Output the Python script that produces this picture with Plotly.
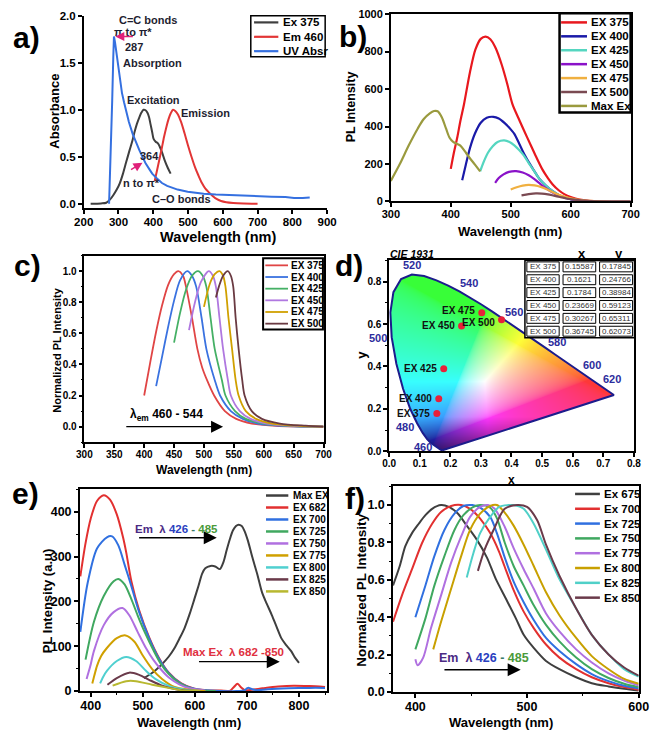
import base64, struct, zlib
import numpy as np
import plotly.graph_objects as go

W, H = 661, 738
FONT = "Liberation Sans, Arial, sans-serif"

# ----------------------------- DATA -----------------------------
# panel a
A_EX_X = [220, 250, 265, 276, 285, 295, 304, 313, 322, 332, 340, 346, 353, 360, 366, 372, 378, 383, 388, 392, 397, 401, 407, 414, 423, 434, 442, 450]
A_EX_Y = [0, 0.003, 0.01, 0.045, 0.09, 0.15, 0.22, 0.32, 0.44, 0.57, 0.67, 0.76, 0.85, 0.92, 0.97, 1.0, 0.995, 0.97, 0.92, 0.85, 0.76, 0.69, 0.66, 0.64, 0.57, 0.45, 0.38, 0.32]
A_EM_X = [404, 410, 417, 424, 431, 438, 444, 450, 457, 464, 471, 480, 490, 500, 510, 520, 530, 540, 550, 560, 570, 582, 595, 610, 630, 660, 700]
A_EM_Y = [0.24, 0.34, 0.46, 0.58, 0.71, 0.82, 0.9, 0.96, 1.0, 0.985, 0.95, 0.87, 0.75, 0.62, 0.5, 0.39, 0.3, 0.22, 0.16, 0.12, 0.085, 0.05, 0.028, 0.015, 0.007, 0.002, 0.0]
A_UV_X = [273, 278, 282, 285, 287, 290, 295, 300, 305, 310, 316, 322, 330, 341, 350, 360, 370, 378, 390, 397, 410, 425, 440, 453, 470, 499, 520, 545, 580, 620, 660, 700, 740, 780, 805, 830, 850]
A_UV_Y = [0.0, 0.5, 1.1, 1.55, 1.78, 1.72, 1.58, 1.45, 1.3, 1.18, 1.08, 0.99, 0.87, 0.74, 0.65, 0.57, 0.49, 0.43, 0.36, 0.32, 0.27, 0.22, 0.19, 0.17, 0.15, 0.126, 0.115, 0.105, 0.097, 0.09, 0.085, 0.08, 0.075, 0.07, 0.06, 0.06, 0.066]

# panel b
B_375_X = [400, 405, 411, 416, 422, 432, 441, 450, 458, 466, 475, 485, 494, 503, 515, 527, 540, 553, 562, 570, 580, 590, 600, 615, 630, 650, 700]
B_375_Y = [174, 258, 344, 430, 518, 690, 810, 868, 880, 866, 818, 730, 630, 518, 430, 345, 255, 170, 125, 91, 60, 38, 24, 10, 4, 1, 0]
B_400_X = [419, 425, 432, 440, 450, 460, 471, 480, 490, 500, 506, 514, 522, 530, 538, 548, 559, 570, 580, 590, 600, 620, 650, 700]
B_400_Y = [114, 195, 285, 360, 420, 447, 452, 443, 418, 385, 361, 310, 256, 210, 169, 120, 84, 55, 35, 22, 13, 4, 1, 0]
B_425_X = [449, 455, 462, 470, 478, 489, 498, 506, 514, 522, 530, 538, 548, 559, 570, 580, 590, 600, 620, 650, 700]
B_425_Y = [161, 212, 260, 295, 318, 326, 318, 300, 275, 245, 205, 168, 120, 84, 55, 35, 22, 13, 4, 1, 0]
B_450_X = [474, 480, 488, 497, 509, 520, 530, 540, 550, 560, 570, 580, 590, 600, 620, 650, 700]
B_450_Y = [100, 125, 145, 158, 162, 155, 140, 118, 92, 68, 48, 32, 21, 13, 5, 1, 0]
B_475_X = [500, 510, 520, 530, 540, 550, 560, 570, 580, 590, 600, 620, 650, 700]
B_475_Y = [64, 76, 85, 89, 86, 78, 65, 50, 36, 25, 17, 6, 1, 0]
B_500_X = [518, 530, 542, 552, 562, 572, 582, 592, 602, 620, 650, 700]
B_500_Y = [33, 39, 43, 42, 38, 31, 24, 17, 11, 5, 1, 0]
B_MAX_X = [300, 315, 330, 345, 355, 365, 372, 378, 385, 392, 398, 404, 410, 416, 423, 430, 440, 449]
B_MAX_Y = [110, 200, 300, 390, 440, 470, 483, 482, 450, 390, 340, 318, 308, 298, 270, 239, 198, 161]

# panel c (normalized)
C_375_X = [400, 410, 420, 430, 440, 450, 457, 465, 470, 480, 489, 497, 505, 517, 535, 554, 580, 620, 700]
C_375_Y = [0.2, 0.41, 0.61, 0.78, 0.91, 0.98, 1.0, 0.97, 0.9, 0.7, 0.5, 0.38, 0.3, 0.2, 0.1, 0.05, 0.02, 0.005, 0.0]
C_400_X = [420, 430, 440, 450, 460, 472, 480, 487, 496, 504, 518, 527, 545, 565, 590, 640, 700]
C_400_Y = [0.26, 0.45, 0.64, 0.81, 0.94, 1.0, 0.97, 0.9, 0.7, 0.5, 0.3, 0.2, 0.1, 0.05, 0.02, 0.004, 0]
C_425_X = [450, 460, 470, 480, 490, 498, 504, 511, 518, 530, 536, 552, 570, 600, 650, 700]
C_425_Y = [0.54, 0.73, 0.88, 0.97, 1.0, 0.97, 0.9, 0.7, 0.5, 0.3, 0.2, 0.1, 0.05, 0.02, 0.004, 0]
C_450_X = [475, 485, 495, 508, 515, 520, 526, 532, 540, 545, 560, 578, 605, 650, 700]
C_450_Y = [0.62, 0.8, 0.93, 1.0, 0.97, 0.9, 0.7, 0.5, 0.3, 0.2, 0.1, 0.05, 0.02, 0.005, 0]
C_475_X = [500, 510, 518, 526, 532, 536, 541, 547, 553, 558, 570, 587, 614, 660, 700]
C_475_Y = [0.77, 0.92, 0.98, 1.0, 0.97, 0.9, 0.7, 0.5, 0.3, 0.2, 0.1, 0.05, 0.02, 0.005, 0]
C_500_X = [520, 525, 532, 540, 545, 549, 553, 558, 564, 568, 580, 597, 627, 670, 700]
C_500_Y = [0.83, 0.9, 0.97, 1.0, 0.97, 0.9, 0.7, 0.5, 0.3, 0.2, 0.1, 0.05, 0.02, 0.006, 0]

# panel d : CIE 1931 spectral locus + measured chromaticities
CIE_WL = [380, 400, 420, 440, 450, 460, 465, 470, 475, 480, 485, 490, 495, 500, 505, 510, 515, 520, 525, 530, 535, 540, 545, 550, 555, 560, 565, 570, 575, 580, 585, 590, 595, 600, 605, 610, 620, 630, 640, 650, 680, 700]
CIE_X = [0.1741, 0.1733, 0.1714, 0.1644, 0.1566, 0.1440, 0.1355, 0.1241, 0.1096, 0.0913, 0.0687, 0.0454, 0.0235, 0.0082, 0.0039, 0.0139, 0.0389, 0.0743, 0.1142, 0.1547, 0.1929, 0.2296, 0.2658, 0.3016, 0.3373, 0.3731, 0.4087, 0.4441, 0.4788, 0.5125, 0.5448, 0.5752, 0.6029, 0.6270, 0.6482, 0.6658, 0.6915, 0.7079, 0.7190, 0.7260, 0.7334, 0.7347]
CIE_Y = [0.0050, 0.0048, 0.0051, 0.0109, 0.0177, 0.0297, 0.0399, 0.0578, 0.0868, 0.1327, 0.2007, 0.2950, 0.4127, 0.5384, 0.6548, 0.7502, 0.8120, 0.8338, 0.8262, 0.8059, 0.7816, 0.7543, 0.7243, 0.6923, 0.6589, 0.6245, 0.5896, 0.5547, 0.5202, 0.4866, 0.4544, 0.4242, 0.3965, 0.3725, 0.3514, 0.3340, 0.3083, 0.2920, 0.2809, 0.2740, 0.2666, 0.2653]
LOCUS_TAGS = [460, 480, 500, 520, 540, 560, 580, 600, 620]
D_LABELS = ["EX 375", "EX 400", "EX 425", "EX 450", "EX 475", "EX 500"]
D_X = [0.15587, 0.1621, 0.1784, 0.23669, 0.30267, 0.36745]
D_Y = [0.17845, 0.24766, 0.38984, 0.59123, 0.65311, 0.62073]
D_HEAD = ["x", "y"]

# panel e
E_MAX_X = [502, 515, 525, 537, 550, 561, 570, 580, 590, 599, 607, 614, 620, 630, 639, 648, 655, 661, 667, 673, 679, 684, 690, 695, 702, 710, 720, 729, 738, 748, 757, 766, 775, 785, 792, 800]
E_MAX_Y = [29, 38, 47, 60, 77, 96, 116, 140, 172, 205, 235, 262, 274, 279, 278, 272, 288, 314, 338, 358, 368, 371, 368, 358, 335, 300, 260, 220, 195, 169, 143, 118, 103, 89, 75, 63]
E_682_X = [380, 390, 400, 412, 425, 437, 450, 462, 468, 478, 493, 512, 530, 549, 574, 599, 620, 650, 668, 675, 682, 689, 696, 710, 730, 760, 790, 820, 850]
E_682_Y = [256, 330, 385, 424, 437, 427, 394, 343, 310, 245, 180, 120, 76, 42, 17, 5, 2, 1, 1, 9, 16, 8, 2, 3, 6, 10, 12, 11, 9]
E_700_X = [380, 394, 412, 431, 441, 453, 465, 478, 493, 512, 530, 549, 574, 599, 630, 680, 696, 700, 704, 710, 718, 740, 780, 820, 850]
E_700_Y = [132, 241, 318, 343, 345, 325, 282, 234, 176, 118, 74, 41, 16, 5, 1, 0, 2, 6, 7, 4, 2, 4, 6, 7, 7]
E_725_X = [390, 406, 425, 444, 453, 465, 478, 490, 505, 520, 535, 550, 570, 590, 610, 640]
E_725_Y = [70, 154, 212, 245, 250, 238, 205, 169, 128, 92, 60, 38, 18, 7, 2, 0]
E_750_X = [392, 399, 406, 425, 444, 461, 474, 490, 506, 520, 535, 550, 570, 590, 620]
E_750_Y = [27, 55, 89, 147, 176, 185, 169, 132, 96, 70, 48, 30, 15, 6, 1]
E_775_X = [403, 407, 412, 420, 431, 450, 467, 484, 499, 518, 537, 561, 590, 620]
E_775_Y = [17, 35, 56, 78, 96, 118, 124, 110, 81, 49, 27, 9, 3, 0]
E_800_X = [418, 424, 431, 450, 468, 487, 506, 524, 549, 580, 610]
E_800_Y = [17, 32, 45, 67, 76, 67, 45, 27, 12, 3, 0]
E_825_X = [432, 450, 474, 493, 512, 537, 568, 600]
E_825_Y = [14, 29, 41, 36, 25, 12, 3, 0]
E_850_X = [442, 468, 487, 518, 549, 580, 610]
E_850_Y = [12, 22, 22, 14, 7, 1, 0]

# panel f (normalized)
F_675_X = [380, 386, 391, 397, 403, 409, 415, 423, 430, 438, 446, 455, 464, 472, 481, 490, 497, 506, 517, 529, 544, 558, 573, 587, 600]
F_675_Y = [0.57, 0.674, 0.78, 0.85, 0.90, 0.946, 0.98, 1.0, 0.99, 0.955, 0.89, 0.815, 0.72, 0.605, 0.5, 0.394, 0.306, 0.236, 0.166, 0.122, 0.079, 0.047, 0.03, 0.017, 0.008]
F_700_X = [380, 388, 397, 406, 415, 423, 432, 441, 449, 458, 467, 475, 480, 488, 497, 506, 517, 529, 544, 558, 573, 587, 600]
F_700_Y = [0.376, 0.517, 0.657, 0.797, 0.90, 0.963, 0.995, 1.0, 0.98, 0.928, 0.85, 0.75, 0.67, 0.545, 0.43, 0.342, 0.254, 0.184, 0.122, 0.079, 0.047, 0.026, 0.012]
F_725_X = [400, 409, 417, 426, 435, 443, 451, 458, 467, 473, 480, 488, 497, 506, 517, 529, 544, 558, 573, 587, 600]
F_725_Y = [0.40, 0.57, 0.727, 0.867, 0.954, 0.995, 1.0, 0.986, 0.937, 0.85, 0.72, 0.59, 0.48, 0.385, 0.289, 0.219, 0.149, 0.096, 0.058, 0.033, 0.019]
F_750_X = [400, 409, 417, 426, 435, 443, 452, 458, 467, 473, 480, 488, 497, 506, 517, 529, 544, 558, 573, 587, 600]
F_750_Y = [0.228, 0.394, 0.569, 0.727, 0.867, 0.946, 0.99, 1.0, 0.986, 0.93, 0.80, 0.674, 0.569, 0.464, 0.359, 0.271, 0.184, 0.122, 0.075, 0.044, 0.026]
F_775_X = [400, 402, 407, 414, 423, 432, 441, 449, 458, 465, 471, 480, 488, 497, 506, 517, 529, 544, 558, 573, 587, 600]
F_775_Y = [0.175, 0.143, 0.184, 0.342, 0.517, 0.692, 0.832, 0.937, 0.99, 1.0, 0.98, 0.884, 0.77, 0.657, 0.552, 0.42, 0.324, 0.228, 0.158, 0.10, 0.061, 0.035]
F_800_X = [416, 423, 432, 441, 449, 458, 467, 473, 480, 488, 497, 506, 517, 529, 544, 558, 573, 587, 600]
F_800_Y = [0.228, 0.376, 0.552, 0.727, 0.867, 0.954, 0.995, 1.0, 0.96, 0.89, 0.788, 0.674, 0.534, 0.411, 0.289, 0.192, 0.122, 0.07, 0.044]
F_825_X = [446, 452, 458, 467, 475, 483, 488, 497, 506, 517, 529, 544, 558, 573, 587, 600]
F_825_Y = [0.613, 0.744, 0.85, 0.937, 0.99, 1.0, 1.0, 0.98, 0.90, 0.762, 0.604, 0.447, 0.306, 0.201, 0.122, 0.082]
F_850_X = [456, 462, 470, 480, 491, 500, 509, 517, 529, 544, 558, 573, 587, 600]
F_850_Y = [0.648, 0.762, 0.867, 0.98, 1.0, 0.99, 0.92, 0.788, 0.622, 0.447, 0.306, 0.201, 0.131, 0.087]

# ----------------------------- STYLE / LAYOUT -----------------------------
def fx(p):
    return p / W


def fy(p):
    return 1 - p / H


# pixel boxes of plot areas: left, right, top, bottom
BOX = {
    "": (76, 327, 10, 206),
    "2": (392.7, 640, 8.3, 199),
    "3": (76.7, 323.3, 254, 444),
    "4": (391, 643.3, 259, 453.3),
    "5": (72, 327, 492, 697.3),
    "6": (395, 648.3, 489, 698.3),
}

fig = go.Figure()
shapes, annos = [], []


def curve(ax, xs, ys, color, width=2.0, shape="spline"):
    fig.add_trace(go.Scatter(
        x=xs, y=ys, mode="lines", xaxis="x" + ax, yaxis="y" + ax,
        line=dict(color=color, width=width, shape=shape, smoothing=0.8),
        hoverinfo="skip", showlegend=False))


def txt(text, x, y, size, color="black", xref="paper", yref="paper", xanchor="center",
        yanchor="middle", angle=0, italic=False, bold=True, xshift=0, yshift=0):
    annos.append(dict(text=text, x=x, y=y, xref=xref, yref=yref, xanchor=xanchor, yanchor=yanchor,
                      showarrow=False, textangle=angle, xshift=xshift, yshift=yshift,
                      font=dict(family=FONT, size=size, color=color,
                                weight="bold" if bold else "normal",
                                style="italic" if italic else "normal")))


def arrow(ax, x0, y0, x1, y1, color, width=1.5, size=1.6):
    annos.append(dict(x=x1, y=y1, ax=x0, ay=y0, xref="x" + ax, yref="y" + ax,
                      axref="x" + ax, ayref="y" + ax, showarrow=True, arrowhead=2,
                      arrowsize=size, arrowwidth=width, arrowcolor=color, text=" ",
                      font=dict(size=1)))


def rect_px(x0, x1, y0, y1, lw=1.0, fill="white"):
    shapes.append(dict(type="rect", xref="paper", yref="paper", x0=fx(x0), x1=fx(x1),
                       y0=fy(y1), y1=fy(y0), line=dict(color="black", width=lw),
                       fillcolor=fill, layer="above"))


def legend(items, xl0, xl1, xt, y0, dy, fsize, lw, box=None, boxw=1.5):
    if box:
        rect_px(box[0], box[1], box[2], box[3], lw=boxw)
    for i, (name, color) in enumerate(items):
        yy = y0 + i * dy
        shapes.append(dict(type="line", xref="paper", yref="paper", x0=fx(xl0), x1=fx(xl1),
                           y0=fy(yy), y1=fy(yy), line=dict(color=color, width=lw), layer="above"))
        txt(name, fx(xt), fy(yy), fsize, xanchor="left")


def axis_pair(ax, xr, yr, xd, yd, fs, xfmt=None, yfmt=None, mirror=True, xminor=None, yminor=None):
    l, r, t, b = BOX[ax]
    common = dict(ticks="outside", ticklen=4, tickwidth=1.5, tickcolor="black", showline=True,
                  linecolor="black", linewidth=1.5, mirror=mirror, showgrid=False, zeroline=False,
                  fixedrange=True, tickfont=dict(family=FONT, size=fs, color="black", weight="bold"))
    xa = dict(common, domain=[fx(l), fx(r)], range=xr, dtick=xd, anchor="y" + ax, ticklabelstandoff=-2)
    ya = dict(common, domain=[fy(b), fy(t)], range=yr, dtick=yd, anchor="x" + ax)
    if xfmt:
        xa["tickformat"] = xfmt
    if yfmt:
        ya["tickformat"] = yfmt
    if xminor:
        xa["minor"] = dict(dtick=xminor, ticks="outside", ticklen=2, tickcolor="black", tickwidth=1)
    if yminor:
        ya["minor"] = dict(dtick=yminor, ticks="outside", ticklen=2, tickcolor="black", tickwidth=1)
    return {"xaxis" + ax: xa, "yaxis" + ax: ya}


layout_axes = {}
layout_axes.update(axis_pair("", [200, 900], [-0.05, 2.0], 100, 0.5, 11.5, yfmt=".1f", mirror=False))
layout_axes.update(axis_pair("2", [300, 700], [0, 1000], 100, 200, 11))
layout_axes.update(axis_pair("3", [300, 700], [-0.1, 1.1], 50, 0.2, 10, yfmt=".1f", yminor=0.1))
layout_axes.update(axis_pair("4", [0, 0.8], [0, 0.9], 0.1, 0.2, 10, xfmt=".1f", yfmt=".1f", yminor=0.1))
layout_axes.update(axis_pair("5", [379, 854], [0, 450], 100, 100, 12.5, xminor=50, yminor=50))
layout_axes.update(axis_pair("6", [380, 600], [0, 1.1], 100, 0.2, 12.5, yfmt=".1f", xminor=50, yminor=0.1))

# ----------------------------- panel a -----------------------------
COL_A = ["#3f3f3f", "#e23535", "#3570e0"]
curve("", A_EX_X, A_EX_Y, COL_A[0])
curve("", A_EM_X, A_EM_Y, COL_A[1])
curve("", A_UV_X, A_UV_Y, COL_A[2], shape="linear")
TA = "#1e1e30"
for t, x, y in [("C=C bonds", 385, 1.955), ("\u03c0 to \u03c0*", 340.7, 1.825), ("287", 344.8, 1.665),
                ("Absorption", 397.8, 1.497), ("Excitation", 402, 1.10), ("Emission", 549.6, 0.963),
                ("364", 389.4, 0.503), ("n to \u03c0*", 365.7, 0.22), ("C\u2013O bonds", 480, 0.052)]:
    txt(t, x, y, 11, color=TA, xref="x", yref="y")
arrow("", 345.7, 1.78, 291, 1.78, "#e0207a", width=1.5, size=1.2)
arrow("", 331.8, 0.353, 369, 0.437, "#e0207a", width=1.5, size=1.2)
legend([("Ex 375", COL_A[0]), ("Em 460", COL_A[1]), ("UV Absr", COL_A[2])],
       251.7, 276.7, 279.3, 16.7, 14.65, 11.5, 2.2, box=(248.3, 325, 10, 51.7))

# ----------------------------- panel b -----------------------------
COL_B = ["#e8181e", "#1a1aa8", "#55d6c0", "#8a12c8", "#f0b040", "#7a4a52", "#9a9a3e"]
B_SER = [("EX 375", B_375_X, B_375_Y), ("EX 400", B_400_X, B_400_Y), ("EX 425", B_425_X, B_425_Y),
         ("EX 450", B_450_X, B_450_Y), ("EX 475", B_475_X, B_475_Y), ("EX 500", B_500_X, B_500_Y),
         ("Max Ex", B_MAX_X, B_MAX_Y)]
for (n, xs, ys), c in zip(B_SER, COL_B):
    curve("2", xs, ys, c, width=2.2)
legend([(n, c) for (n, _, _), c in zip(B_SER, COL_B)], 568.3, 595, 596.7, 16.7, 14.17, 11.5, 2.5,
       box=(566.7, 640, 7.3, 108.3), boxw=2.5)

# ----------------------------- panel c -----------------------------
COL_C = ["#e04545", "#3a72e0", "#45b065", "#b078e0", "#d0a000", "#6a3a42"]
C_SER = [("EX 375", C_375_X, C_375_Y), ("EX 400", C_400_X, C_400_Y), ("EX 425", C_425_X, C_425_Y),
         ("EX 450", C_450_X, C_450_Y), ("EX 475", C_475_X, C_475_Y), ("EX 500", C_500_X, C_500_Y)]
for (n, xs, ys), c in zip(C_SER, COL_C):
    curve("3", xs, ys, c, width=1.8)
legend([(n, c) for (n, _, _), c in zip(C_SER, COL_C)], 263.3, 286.7, 287.7, 264, 11.87, 10, 1.8,
       box=(261, 322.7, 256.7, 329.3), boxw=2)
arrow("3", 367.6, 0, 532, 0, "black", width=1.2, size=2)
txt("\u03bb<sub>em</sub> 460 - 544", 373, 0.075, 12, xref="x3", yref="y3", xanchor="left")


# ----------------------------- panel d -----------------------------
def cie_png(nx=320, ny=360):
    xs = (np.arange(nx) + 0.5) * (0.8 / nx)
    ys = 0.9 - (np.arange(ny) + 0.5) * (0.9 / ny)
    gx, gy = np.meshgrid(xs, ys)
    px, py = np.array(CIE_X), np.array(CIE_Y)
    inside = np.zeros(gx.shape, bool)
    n = len(px)
    with np.errstate(divide="ignore", invalid="ignore"):
        for i in range(n):
            x1, y1, x2, y2 = px[i], py[i], px[(i + 1) % n], py[(i + 1) % n]
            cond = (y1 > gy) != (y2 > gy)
            xint = x1 + (gy - y1) * (x2 - x1) / (y2 - y1 if y2 != y1 else 1e-12)
            inside ^= cond & (gx < xint)
    yy = np.maximum(gy, 1e-4)
    X, Y, Z = gx / yy, np.ones_like(gx), (1 - gx - gy) / yy
    r = 3.2406 * X - 1.5372 * Y - 0.4986 * Z
    g = -0.9689 * X + 1.8758 * Y + 0.0415 * Z
    b = 0.0557 * X - 0.2040 * Y + 1.0570 * Z
    rgb = np.clip(np.stack([r, g, b], -1), 0, None)
    rgb = rgb / (rgb.max(-1, keepdims=True) + 1e-9)
    rgb = np.where(rgb <= 0.0031308, 12.92 * rgb, 1.055 * np.power(rgb, 1 / 2.4) - 0.055)
    bright = np.clip(0.35 + gy * 4.0, 0, 1)[..., None]
    mix = 0.22 * bright
    rgb = rgb * bright * (1 - mix) + mix
    img = np.dstack([(np.clip(rgb, 0, 1) * 255).astype(np.uint8), (inside * 255).astype(np.uint8)])
    raw = b"".join(b"\x00" + img[k].tobytes() for k in range(ny))

    def chunk(tag, data):
        return struct.pack(">I", len(data)) + tag + data + struct.pack(">I", zlib.crc32(tag + data) & 0xFFFFFFFF)

    png = (b"\x89PNG\r\n\x1a\n" + chunk(b"IHDR", struct.pack(">IIBBBBB", nx, ny, 8, 6, 0, 0, 0))
           + chunk(b"IDAT", zlib.compress(raw, 9)) + chunk(b"IEND", b""))
    return "data:image/png;base64," + base64.b64encode(png).decode()


images = [dict(source=cie_png(), xref="x4", yref="y4", x=0, y=0.9, sizex=0.8, sizey=0.9,
               sizing="stretch", xanchor="left", yanchor="top", layer="below")]
fig.add_trace(go.Scatter(x=CIE_X + [CIE_X[0]], y=CIE_Y + [CIE_Y[0]], mode="lines", xaxis="x4", yaxis="y4",
                         line=dict(color="#1c1c8c", width=2), hoverinfo="skip", showlegend=False))
fig.add_trace(go.Scatter(x=D_X, y=D_Y, mode="markers", xaxis="x4", yaxis="y4",
                         marker=dict(color="#e8203a", size=7), hoverinfo="skip", showlegend=False))
LABEL_YSHIFT = {"EX 475": 2, "EX 500": -3}
for lab, xv, yv in zip(D_LABELS, D_X, D_Y):
    txt(lab, xv, yv, 10, color="#111", xref="x4", yref="y4", xanchor="right",
        xshift=-5, yshift=LABEL_YSHIFT.get(lab, 0))
TAG_SHIFT = {460: (-10, -2), 480: (-12, -4), 500: (-14, -1), 520: (0, 9), 540: (10, 8),
             560: (11, 7), 580: (11, 6), 600: (11, 7), 620: (11, 7)}
for wl in LOCUS_TAGS:
    k = CIE_WL.index(wl)
    sx, sy = TAG_SHIFT[wl]
    txt(str(wl), CIE_X[k], CIE_Y[k], 11, color="#2c2c9c", xref="x4", yref="y4", xshift=sx, yshift=sy)

# chromaticity table (drawn as boxed cells)
TBL_COLS = [531, 568.3, 606, 644]
TBL_TOP, TBL_ROW = 259, 13.1
rect_px(TBL_COLS[0], TBL_COLS[-1], TBL_TOP, TBL_TOP + 6 * TBL_ROW, lw=1.5)
for r, row in enumerate(zip(D_LABELS, [str(v) for v in D_X], [str(v) for v in D_Y])):
    for c, val in enumerate(row):
        x0, x1 = TBL_COLS[c] + 2, TBL_COLS[c + 1] - 2
        y0 = TBL_TOP + r * TBL_ROW + 1.5
        y1 = y0 + TBL_ROW - 3
        rect_px(x0, x1, y0, y1, lw=1)
        txt(val, fx((x0 + x1) / 2), fy((y0 + y1) / 2), 8, color="#333", bold=False)
for c, h in enumerate(D_HEAD):
    txt(h, fx((TBL_COLS[c + 1] + TBL_COLS[c + 2]) / 2 + 3), fy(252), 13)
txt("CIE 1931", fx(390), fy(252), 10.5, xanchor="left", italic=True)

# ----------------------------- panel e -----------------------------
COL_E = ["#3f3f3f", "#e23030", "#3070e0", "#40a860", "#b070e0", "#d0a000", "#50d0d0", "#6a3a4a", "#b8b830"]
E_SER = [("Max EX", E_MAX_X, E_MAX_Y), ("EX 682", E_682_X, E_682_Y), ("EX 700", E_700_X, E_700_Y),
         ("EX 725", E_725_X, E_725_Y), ("EX 750", E_750_X, E_750_Y), ("EX 775", E_775_X, E_775_Y),
         ("EX 800", E_800_X, E_800_Y), ("EX 825", E_825_X, E_825_Y), ("EX 850", E_850_X, E_850_Y)]
for (n, xs, ys), c in zip(E_SER, COL_E):
    curve("5", xs, ys, c, width=2.0)
legend([(n, c) for (n, _, _), c in zip(E_SER, COL_E)], 264, 287, 290, 498.3, 12.2, 10, 2.5)
NB = "\u00a0"
EM_TXT = ('<span style="color:#4b2a84">Em' + NB + NB + '\u03bb</span> <span style="color:#2a3fc0">426</span>'
          ' <span style="color:#3a7a6a">-</span> <span style="color:#4a9a3a">485</span>')
arrow("5", 490, 342, 642, 342, "black", width=1.3, size=2)
txt(EM_TXT, 564, 362, 11.5, xref="x5", yref="y5")
arrow("5", 605, 65.5, 763, 65.5, "black", width=1.3, size=2)
txt("Max Ex" + NB + NB + "\u03bb 682 -850", 675, 87, 11.5, color="#e03040", xref="x5", yref="y5")

# ----------------------------- panel f -----------------------------
COL_F = ["#3f3f3f", "#e23030", "#3070e0", "#40a860", "#b070e0", "#c8a000", "#50d0c8", "#6a3a4a"]
F_SER = [("Ex 675", F_675_X, F_675_Y), ("Ex 700", F_700_X, F_700_Y), ("Ex 725", F_725_X, F_725_Y),
         ("Ex 750", F_750_X, F_750_Y), ("Ex 775", F_775_X, F_775_Y), ("Ex 800", F_800_X, F_800_Y),
         ("Ex 825", F_825_X, F_825_Y), ("Ex 850", F_850_X, F_850_Y)]
for (n, xs, ys), c in zip(F_SER, COL_F):
    curve("6", xs, ys, c, width=2.0)
legend([(n, c) for (n, _, _), c in zip(F_SER, COL_F)], 582.7, 608.3, 610.7, 496.7, 15.08, 11.5, 2.5)
arrow("6", 424.7, 0.119, 494.3, 0.119, "black", width=1.3, size=2)
txt(EM_TXT, 461.9, 0.184, 12.5, xref="x6", yref="y6")

# ----------------------------- axis titles & panel letters -----------------------------
for t, x, y, s, ang in [
    ("Absorbance", 45, 107, 13, -90), ("Wavelength (nm)", 214, 235, 14.5, 0),
    ("PL Intensity", 351.7, 103, 12.5, -90), ("Wavelength (nm)", 515.5, 230, 13, 0),
    ("Normalized PL Intensity", 48.3, 350, 11, -90), ("Wavelength (nm)", 200.5, 472, 12, 0),
    ("y", 363, 355, 13, -90), ("x", 517, 482, 12, 0),
    ("PL Intensity (a.u)", 38, 605, 13, -90), ("Wavelength (nm)", 185, 729, 13, 0),
    ("Normalized PL Intensity", 361.7, 594.5, 13.5, -90), ("Wavelength (nm)", 506, 729, 13, 0),
]:
    txt(t, fx(x), fy(y), s, angle=ang)
for t, x, y in [("a)", 1, 32), ("b)", 337, 31), ("c)", 2, 264), ("d)", 333, 264), ("e)", 0, 496), ("f)", 343, 501)]:
    txt(t, fx(x), fy(y), 30, xanchor="left")

fig.update_layout(width=W, height=H, margin=dict(l=0, r=0, t=0, b=0), paper_bgcolor="white",
                  plot_bgcolor="white", showlegend=False, shapes=shapes, annotations=annos,
                  images=images, **layout_axes)
fig.write_html("out.html")
